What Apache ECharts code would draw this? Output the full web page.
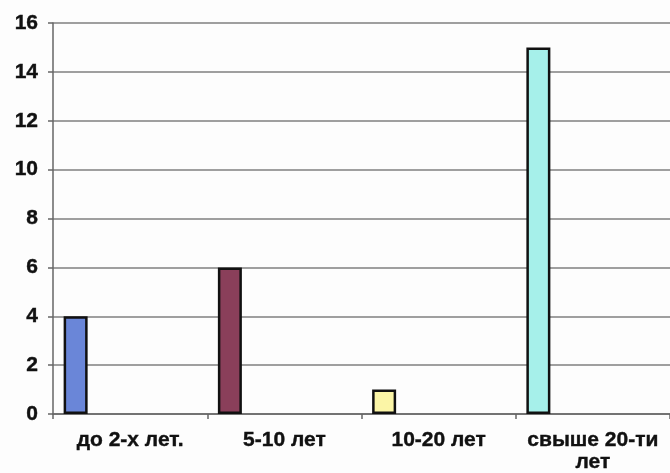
<!DOCTYPE html>
<html>
<head>
<meta charset="utf-8">
<script src="https://cdn.jsdelivr.net/npm/echarts@6/dist/echarts.min.js"></script>
<style>
html,body{margin:0;padding:0;background:#fdfdfd;}
#c{width:670px;height:473px;}
</style>
</head>
<body>
<div id="c"></div>
<script>
const categories = ['до 2-х лет.', '5-10 лет', '10-20 лет', 'свыше 20-ти\nлет'];
const values = [4, 6, 1, 15];
const barColors = ['#6a86d8', '#8a3f5a', '#fbf5a6', '#a6f0ea'];
const yTicks = [0, 2, 4, 6, 8, 10, 12, 14, 16];

const labelFont = {
  color: '#111',
  fontFamily: 'Liberation Sans, Arial, sans-serif',
  fontWeight: 'bold',
  fontSize: 21,
  textBorderColor: '#111',
  textBorderWidth: 0.4
};

const chart = echarts.init(document.getElementById('c'));
chart.setOption({
  backgroundColor: '#fdfdfd',
  animation: false,
  grid: { left: 53, top: 23, width: 628, height: 392, containLabel: false },
  xAxis: {
    type: 'category',
    data: categories,
    boundaryGap: true,
    axisLine: { lineStyle: { color: '#666', width: 1.5 } },
    axisTick: { show: true, length: 5, lineStyle: { color: '#666', width: 1.5 } },
    axisLabel: Object.assign({ interval: 0, margin: 15, lineHeight: 22 }, labelFont)
  },
  yAxis: {
    type: 'value',
    min: yTicks[0],
    max: yTicks[yTicks.length - 1],
    interval: 2,
    axisLine: { show: true, lineStyle: { color: '#666', width: 1.5 } },
    axisTick: { show: true, length: 5, lineStyle: { color: '#666', width: 1.5 } },
    splitLine: { lineStyle: { color: '#7f7f7f', width: 1.5 } },
    axisLabel: Object.assign({ margin: 15 }, labelFont)
  },
  series: [
    {
      type: 'bar',
      barWidth: 24,
      barGap: '0%',
      data: values.map((v, i) => ({
        value: v,
        itemStyle: { color: barColors[i], borderColor: '#111', borderWidth: 2.5 }
      }))
    },
    {
      type: 'bar',
      barWidth: 109,
      barGap: '0%',
      silent: true,
      data: categories.map(() => '-')
    }
  ]
});
</script>
</body>
</html>
